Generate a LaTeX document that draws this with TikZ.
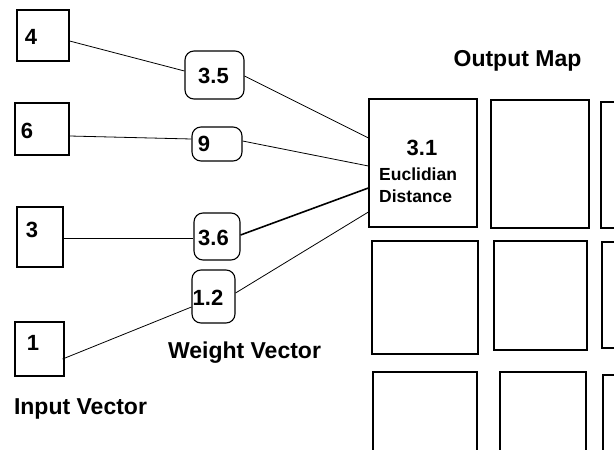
\documentclass[tikz,border=0pt]{standalone}
\usepackage{fontspec}
\setmainfont{Liberation Sans}

\tikzset{
inbox/.style={draw,line width=1.2pt,inner sep=0pt},
wbox/.style={draw,rounded corners=9pt,line width=1.1pt,inner sep=0pt},
cell/.style={draw,line width=1.2pt,inner sep=0pt},
num/.style={font=\fontsize{22}{24}\selectfont\bfseries,inner sep=0pt},
small/.style={font=\fontsize{17.5}{20}\selectfont\bfseries,inner sep=0pt,anchor=west},
title/.style={font=\fontsize{23}{26}\selectfont\bfseries,inner sep=0pt,anchor=base},
wire/.style={line width=0.8pt}
}

\begin{document}
\begin{tikzpicture}[x=1pt,y=-1pt]

\clip (0,0) rectangle (614,450);
\fill[white] (0,0) rectangle (614,450);

% input vector
\node[inbox,minimum width=52,minimum height=51] (in4) at (43,35.5) {};
\node[inbox,minimum width=54,minimum height=52] (in6) at (42,129) {};
\node[inbox,minimum width=46,minimum height=60] (in3) at (40,237) {};
\node[inbox,minimum width=49,minimum height=54] (in1) at (39.5,349) {};
\node[num] (t4) at (31,37) {4};
\node[num] (t6) at (27,131) {6};
\node[num] (t3) at (32,230) {3};
\node[num] (t1) at (33,343) {1};

% weight vector
\node[wbox,minimum width=59,minimum height=48] (w35) at (214.5,75) {};
\node[wbox,minimum width=50,minimum height=34] (w9) at (217,144) {};
\node[wbox,minimum width=46,minimum height=47] (w36) at (217,236.5) {};
\node[wbox,minimum width=43,minimum height=53] (w12) at (213.5,296.5) {};
\node[num] (t35) at (213.5,75.5) {3.5};
\node[num] (t9) at (204,143.5) {9};
\node[num] (t36) at (213.5,237.5) {3.6};
\node[num] (t12) at (208,297.5) {1.2};

% output map
\foreach \n/\x/\y/\w/\h in {c11/423/163/108/128, c12/540/164/98/128, c13/650.5/165/99/126,
c21/425/297.5/106/113, c22/540.5/295.5/93/109, c23/651/295/98/106,
c31/425/426/104/108, c32/543/426/86/108, c33/651.5/427.5/97/105}
{
\node[cell,minimum width=\w,minimum height=\h] (\n) at (\x,\y) {};
}
\node[num] (t31) at (422,148) {3.1};
\node[small] (eu) at (379,174.5) {Euclidian};
\node[small] (di) at (379,196) {Distance};

\draw[wire] ([yshift=-5.5pt]in4.east)--([yshift=4pt]w35.west);
\draw[wire] ([yshift=-1pt]w35.east)--([yshift=25pt]c11.west);
\draw[wire] ([yshift=-7pt]in6.east)--([yshift=5pt]w9.west);
\draw[wire] ([yshift=3pt]w9.east)--([yshift=-3pt]c11.west);
\draw[wire] ([yshift=-1pt]in3.east)--([yshift=-1.5pt]w36.west);
\draw[wire,line width=1.6pt] ([yshift=1.5pt]w36.east)--([yshift=-25pt]c11.west);
\draw[wire] ([xshift=-2pt,yshift=-10pt]in1.east)--([yshift=-10.5pt]w12.west);
\draw[wire] ([yshift=3.5pt]w12.east)--([yshift=-49pt]c11.west);

\node[title] (om) at (517.5,66.5) {Output Map};
\node[title] (wv) at (244.5,358) {Weight Vector};
\node[title] (iv) at (80.5,414.5) {Input Vector};
\end{tikzpicture}
\end{document}
